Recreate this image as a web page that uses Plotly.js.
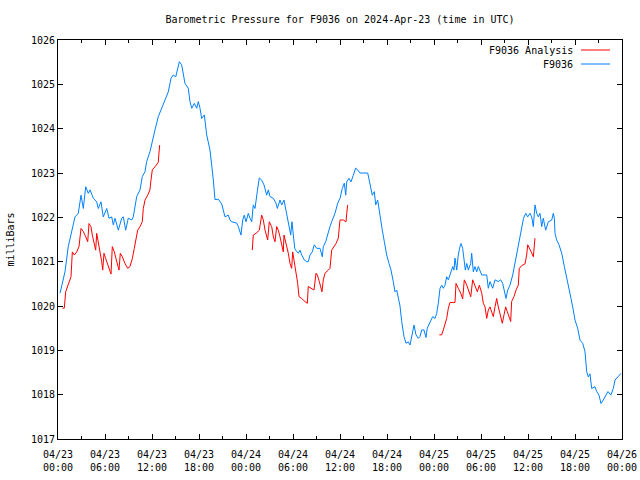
<!DOCTYPE html>
<html>
<head>
<meta charset="utf-8">
<script src="https://cdn.plot.ly/plotly-3.0.1.min.js"></script>
<style>html,body{margin:0;padding:0;background:#fff;}#chart{width:640px;height:480px;}</style>
</head>
<body>
<div id="chart"></div>
<script>
// Hours since 2024-04-23 00:00 UTC and pressure (mbar)
const blueHours = [0.26,0.89,1.31,1.75,2.17,2.59,2.94,3.23,3.54,3.87,4.09,4.51,4.94,5.14,5.49,5.78,6.22,6.51,6.86,7.06,7.28,7.70,8.13,8.34,8.64,8.97,9.41,9.61,10.05,10.47,10.76,11.11,11.32,11.74,11.96,12.38,12.80,13.24,13.66,14.08,14.43,14.72,15.03,15.28,15.49,15.79,16.0,16.21,16.63,16.85,17.07,17.40,17.71,17.91,18.13,18.34,18.68,18.98,19.40,19.62,19.83,20.04,20.46,20.90,21.10,21.32,21.74,21.96,22.17,22.81,23.02,23.36,23.58,23.78,24.0,24.29,24.51,24.73,24.93,25.15,25.44,25.70,26.0,26.30,26.64,26.85,27.06,27.49,27.83,28.0,28.34,28.56,28.85,29.11,29.27,29.53,29.71,29.87,30.04,30.22,30.34,30.68,30.89,31.11,31.44,31.75,31.95,32.17,32.46,32.72,33.03,33.45,33.74,33.87,34.17,34.51,34.72,34.94,35.36,35.71,36.0,36.29,36.55,36.73,36.86,37.15,37.40,37.70,38.0,38.26,38.55,39.54,39.70,39.96,40.12,40.38,40.56,40.81,41.11,41.40,41.66,41.96,42.26,42.51,42.80,43.02,43.24,43.44,43.66,43.88,44.17,44.43,44.72,44.94,45.23,45.45,45.70,46.0,46.21,46.43,46.72,46.98,47.14,47.49,47.83,48.13,48.34,48.55,48.77,48.98,49.19,49.40,49.62,49.83,50.13,50.39,50.55,50.68,50.90,51.10,51.32,51.45,51.66,51.83,52.0,52.18,52.38,52.69,52.81,53.02,53.23,53.45,53.66,54.09,54.73,54.93,55.15,55.49,55.79,56.21,56.52,56.77,56.94,57.19,57.41,57.70,58.05,58.34,58.66,58.91,59.19,59.43,59.71,59.96,60.26,60.47,60.68,60.89,61.11,61.32,61.53,61.75,61.95,62.26,62.59,63.03,63.23,63.36,63.45,63.66,63.96,64.30,64.64,64.94,65.23,65.49,65.78,66.0,66.34,66.64,66.98,67.28,67.49,67.70,67.91,68.13,68.55,68.77,69.06,69.32,69.61,69.92,70.21,70.57,70.89,71.11,71.53,71.87];
const blueValues = [1020.29,1020.77,1021.34,1021.68,1022.01,1022.09,1022.5,1022.2,1022.69,1022.54,1022.62,1022.43,1022.35,1022.2,1022.35,1022.01,1022.2,1021.98,1022.01,1021.83,1021.98,1021.71,1021.98,1022.01,1021.71,1021.98,1021.94,1022.01,1022.47,1022.62,1022.92,1023.03,1023.26,1023.48,1023.67,1023.97,1024.27,1024.46,1024.68,1024.83,1025.14,1025.21,1025.17,1025.4,1025.51,1025.44,1025.17,1025.02,1024.91,1024.61,1024.46,1024.57,1024.46,1024.61,1024.46,1024.23,1024.31,1023.86,1023.52,1023.22,1022.84,1022.4,1022.41,1022.3,1022.13,1022.01,1022.05,1021.94,1021.9,1021.87,1021.79,1021.6,1021.94,1022.05,1021.9,1022.09,1021.98,1021.9,1022.28,1022.2,1022.58,1022.89,1022.84,1022.73,1022.5,1022.62,1022.47,1022.43,1022.32,1022.2,1022.39,1022.28,1022.39,1022.16,1021.98,1021.75,1021.6,1021.9,1021.6,1021.3,1021.26,1021.19,1021.26,1021.15,1021.04,1021.0,1021.0,1021.15,1021.22,1021.38,1021.3,1021.3,1021.11,1021.34,1021.45,1021.68,1021.79,1021.9,1022.09,1022.32,1022.43,1022.65,1022.77,1022.5,1022.8,1022.88,1022.8,1022.95,1023.11,1023.07,1023.0,1023.0,1022.84,1022.58,1022.5,1022.58,1022.28,1022.39,1021.98,1021.71,1021.45,1021.15,1020.96,1020.81,1020.55,1020.32,1020.36,1020.21,1020.0,1019.65,1019.31,1019.16,1019.19,1019.12,1019.35,1019.57,1019.35,1019.27,1019.31,1019.46,1019.46,1019.29,1019.5,1019.65,1019.76,1019.72,1019.83,1020.06,1020.4,1020.47,1020.4,1020.47,1020.66,1020.59,1020.74,1020.89,1020.81,1021.08,1020.81,1021.15,1021.34,1021.41,1021.3,1021.0,1020.81,1020.96,1020.81,1020.96,1021.19,1020.77,1020.89,1020.77,1020.89,1020.7,1020.7,1020.4,1020.55,1020.4,1020.59,1020.55,1020.59,1020.51,1020.36,1020.17,1020.36,1020.47,1020.7,1020.98,1021.26,1021.52,1021.73,1021.98,1022.09,1022.01,1022.09,1022.01,1021.79,1022.28,1022.09,1022.01,1022.09,1021.79,1021.98,1021.71,1021.9,1021.94,1022.09,1021.98,1021.64,1021.49,1021.38,1021.19,1020.89,1020.66,1020.4,1020.17,1019.91,1019.68,1019.5,1019.23,1019.16,1018.97,1018.52,1018.4,1018.47,1018.14,1018.18,1018.07,1017.99,1017.8,1017.88,1017.99,1018.07,1017.99,1018.14,1018.33,1018.4,1018.48];

const redHours1 = [0.57,0.80,0.98,1.31,1.66,1.83,2.08,2.39,2.68,2.94,3.23,3.54,3.79,3.96,4.21,4.38,4.63,4.81,4.94,5.14,5.36,5.58,5.71,5.87,6.09,6.34,6.55,6.77,6.93,7.19,7.40,7.62,7.79,7.95,8.21,8.55,8.90,9.19,9.49,9.74,9.92,10.17,10.47,10.76,10.89,11.11,11.45,11.74,11.87,12.04,12.38,12.80,12.89,12.98];
const redValues1 = [1019.95,1019.95,1020.32,1020.47,1020.66,1021.22,1021.15,1021.22,1021.34,1021.75,1021.68,1021.56,1021.45,1021.86,1021.79,1021.6,1021.38,1021.26,1021.64,1021.45,1021.22,1021.0,1020.81,1021.19,1021.07,1020.92,1020.85,1020.72,1021.34,1021.22,1021.07,1020.92,1020.81,1021.19,1021.11,1020.96,1020.85,1020.89,1021.07,1021.3,1021.49,1021.71,1021.79,1021.9,1022.2,1022.39,1022.5,1022.62,1022.84,1023.07,1023.14,1023.24,1023.45,1023.63];
const redHours2 = [24.80,24.93,25.28,25.70,26.0,26.21,26.43,26.64,26.77,26.97,27.28,27.49,27.70,27.92,28.12,28.34,28.56,28.76,28.85,29.11,29.40,29.62,29.83,29.96,30.13,30.38,30.60,30.77,31.11,31.53,31.83,31.95,32.39,32.68,32.94,33.10,33.36,33.54,33.70,33.87,34.09,34.51,34.72,34.94,35.23,35.49,35.78,36.0,36.42,36.77,36.86,36.98];
const redValues2 = [1021.26,1021.6,1021.64,1021.71,1022.05,1021.94,1021.71,1021.6,1021.49,1021.9,1021.79,1021.56,1021.45,1021.79,1021.71,1021.56,1021.34,1021.22,1021.6,1021.41,1021.19,1020.96,1020.85,1021.22,1021.04,1020.74,1020.51,1020.21,1020.17,1020.1,1020.06,1020.44,1020.4,1020.36,1020.74,1020.7,1020.55,1020.44,1020.32,1020.59,1020.74,1020.81,1020.85,1021.26,1021.34,1021.41,1021.53,1021.94,1021.94,1021.9,1022.09,1022.28];
const redHours3 = [48.68,48.98,49.19,49.40,49.62,49.83,50.04,50.68,50.81,51.10,51.41,51.66,51.87,52.18,52.38,52.69,52.94,53.23,53.53,53.79,54.09,54.30,54.51,54.73,54.93,55.15,55.36,55.57,55.79,56.0,56.21,56.43,56.72,56.94,57.15,57.36,57.61,57.79,57.91,58.21,58.47,58.63,58.76,58.89,59.19,59.62,59.83,59.96,60.26,60.47,60.68,60.81,60.89];
const redValues3 = [1019.35,1019.35,1019.46,1019.57,1019.72,1019.95,1020.08,1020.08,1020.51,1020.4,1020.29,1020.16,1020.59,1020.47,1020.36,1020.21,1020.59,1020.44,1020.32,1020.47,1020.29,1020.06,1019.98,1019.72,1019.91,1019.98,1019.87,1019.76,1019.98,1020.17,1019.98,1019.83,1019.61,1019.8,1019.98,1019.87,1019.76,1019.65,1020.1,1020.21,1020.36,1020.44,1020.47,1020.85,1020.91,1020.95,1021.15,1021.38,1021.29,1021.2,1021.11,1021.3,1021.53];

const seriesNames = ["F9036 Analysis", "F9036"];
const seriesColors = ["#ff0000", "#0080ff"];

const t0 = Date.UTC(2024, 3, 23);
function toDate(h) {
  return new Date(t0 + Math.round(h * 3600000)).toISOString().replace('T', ' ').slice(0, 19);
}
const redX = [...redHours1.map(toDate), null, ...redHours2.map(toDate), null, ...redHours3.map(toDate)];
const redY = [...redValues1, null, ...redValues2, null, ...redValues3];

const font = "DejaVu Sans Mono, monospace";
const traces = [
  {x: blueHours.map(toDate), y: blueValues, mode: 'lines', name: seriesNames[1],
   line: {color: seriesColors[1], width: 1}, connectgaps: false},
  {x: redX, y: redY, mode: 'lines', name: seriesNames[0],
   line: {color: seriesColors[0], width: 1}, connectgaps: false}
];

const axisCommon = {
  showline: true, linecolor: '#000', linewidth: 1, mirror: 'ticks',
  ticks: 'inside', ticklen: 5, tickcolor: '#000', tickwidth: 1,
  showgrid: false, zeroline: false,
  tickfont: {family: font, size: 10, color: '#000'}
};

const layout = {
  width: 640, height: 480,
  margin: {l: 58, r: 18, t: 40, b: 41},
  paper_bgcolor: '#fff', plot_bgcolor: '#fff',
  showlegend: false,
  title: {text: 'Barometric Pressure for F9036 on 2024-Apr-23 (time in UTC)',
          font: {family: font, size: 10, color: '#000'}, xref: 'paper', x: 0.5, xanchor: 'center', y: 1 - 19/480, yanchor: 'middle'},
  xaxis: Object.assign({}, axisCommon, {
    type: 'date',
    range: ['2024-04-23 00:00:00', '2024-04-26 00:00:00'],
    tick0: '2024-04-23 00:00:00', dtick: 6 * 3600000,
    tickformat: '%m/%d<br>%H:%M',
    minor: {dtick: 3 * 3600000, ticks: 'inside', ticklen: 3, tickcolor: '#000', showgrid: false},
    ticklabelstandoff: 6
  }),
  yaxis: Object.assign({}, axisCommon, {
    range: [1017, 1026], dtick: 1, tick0: 1017,
    title: {text: 'milliBars', font: {family: font, size: 10, color: '#000'}, standoff: 14}
  }),
  annotations: [
    {xref: 'paper', yref: 'paper', x: (575 - 58) / 564, y: (439 - 50) / 399, xanchor: 'right', yanchor: 'middle',
     text: seriesNames[0], showarrow: false, font: {family: font, size: 10, color: '#000'}},
    {xref: 'paper', yref: 'paper', x: (575 - 58) / 564, y: (439 - 64) / 399, xanchor: 'right', yanchor: 'middle',
     text: seriesNames[1], showarrow: false, font: {family: font, size: 10, color: '#000'}}
  ],
  shapes: [
    {type: 'line', xref: 'paper', yref: 'paper', x0: (581 - 58) / 564, x1: (610 - 58) / 564,
     y0: (439 - 50) / 399, y1: (439 - 50) / 399, line: {color: seriesColors[0], width: 1}},
    {type: 'line', xref: 'paper', yref: 'paper', x0: (581 - 58) / 564, x1: (610 - 58) / 564,
     y0: (439 - 64) / 399, y1: (439 - 64) / 399, line: {color: seriesColors[1], width: 1}}
  ]
};

Plotly.newPlot('chart', traces, layout, {staticPlot: true, displayModeBar: false});
</script>
</body>
</html>
